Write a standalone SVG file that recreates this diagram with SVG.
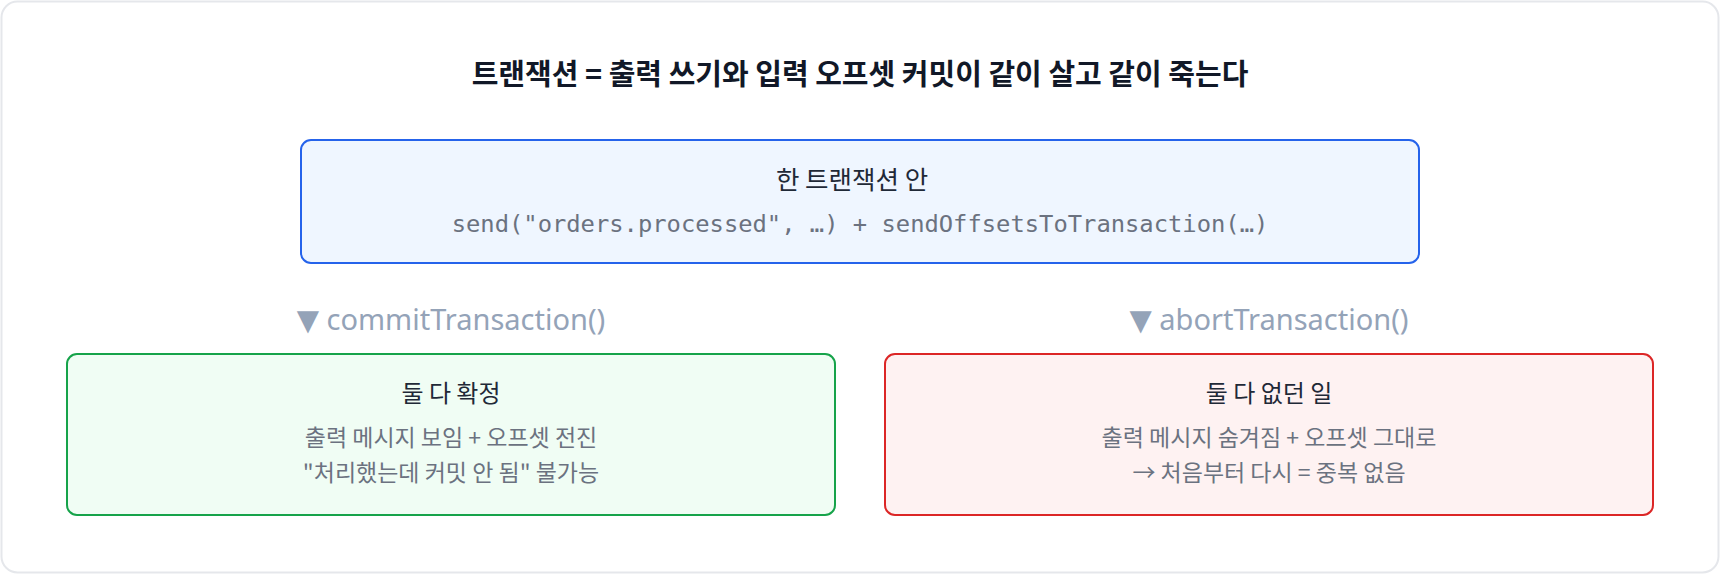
<svg xmlns="http://www.w3.org/2000/svg" width="1720" height="574" viewBox="0 0 1720 574">
<style>
.kr{font-family:"Noto Sans CJK KR","Noto Sans",sans-serif}
.title{font-size:29px;font-weight:700;fill:#111827}
.ntitle{font-size:24px;fill:#1f2937}
.sub{font-size:23px;fill:#6b7280}
.mono{font-family:"DejaVu Sans Mono","Liberation Mono",monospace;font-size:23.8px;fill:#6b7280}
.lbl{font-family:"Noto Sans","Open Sans",sans-serif;font-size:29px;fill:#94a3b8}
.tri{font-family:"DejaVu Sans",sans-serif}
</style>
<rect x="1.5" y="1.5" width="1717" height="571" rx="16" fill="#ffffff" stroke="#e5e7eb" stroke-width="2"/>
<text class="kr title" x="860" y="85" text-anchor="middle">트랜잭션 = 출력 쓰기와 입력 오프셋 커밋이 같이 살고 같이 죽는다</text>
<g id="tx">
<rect x="301" y="140" width="1118" height="123" rx="10" fill="#eff6ff" stroke="#2563eb" stroke-width="2"/>
<text class="kr ntitle" x="852" y="189" text-anchor="middle" style="font-size:25.5px">한 트랜잭션 안</text>
<text class="mono" x="860" y="232" text-anchor="middle">send("orders.processed", …) + sendOffsetsToTransaction(…)</text>
</g>
<g id="connectors">
<text class="lbl" x="451" y="330" text-anchor="middle"><tspan class="tri">▼</tspan> commitTransaction()</text>
<text class="lbl" x="1269" y="330" text-anchor="middle"><tspan class="tri">▼</tspan> abortTransaction()</text>
</g>
<g id="commit">
<rect x="67" y="354" width="768" height="161" rx="10" fill="#f0fdf4" stroke="#16a34a" stroke-width="2"/>
<text class="kr ntitle" x="451" y="402" text-anchor="middle">둘 다 확정</text>
<text class="kr sub" x="451" y="446" text-anchor="middle">출력 메시지 보임 + 오프셋 전진</text>
<text class="kr sub" x="451" y="481" text-anchor="middle">"처리했는데 커밋 안 됨" 불가능</text>
</g>
<g id="abort">
<rect x="885" y="354" width="768" height="161" rx="10" fill="#fef2f2" stroke="#dc2626" stroke-width="2"/>
<text class="kr ntitle" x="1269" y="402" text-anchor="middle">둘 다 없던 일</text>
<text class="kr sub" x="1269" y="446" text-anchor="middle">출력 메시지 숨겨짐 + 오프셋 그대로</text>
<text class="kr sub" x="1269" y="481" text-anchor="middle">→ 처음부터 다시 = 중복 없음</text>
</g>
</svg>
